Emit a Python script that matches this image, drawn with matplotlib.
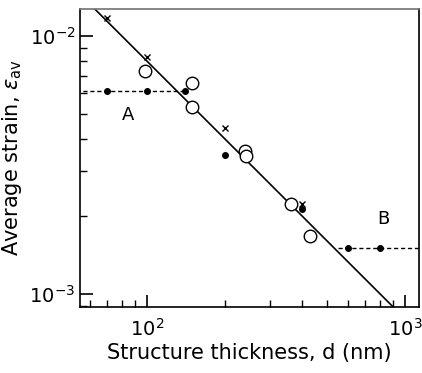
import numpy as np
import matplotlib
matplotlib.use("Agg")
import matplotlib.pyplot as plt
from matplotlib.ticker import LogLocator, NullFormatter

# filled dots (plateaus A and B plus scattered)
dot_d = [70, 100, 140, 200, 400, 600, 800]
dot_eps = [6.1e-3, 6.1e-3, 6.1e-3, 3.46e-3, 2.14e-3, 1.51e-3, 1.51e-3]

# open circles
circ_d = [98, 150, 150, 240, 243, 360, 430]
circ_eps = [7.3e-3, 6.6e-3, 5.3e-3, 3.58e-3, 3.42e-3, 2.23e-3, 1.68e-3]

# crosses
cross_d = [70, 100, 200, 400]
cross_eps = [1.17e-2, 8.3e-3, 4.4e-3, 2.23e-3]

# eps = C / d fit
fit_const = 0.8
fit_d = [50, 1200]

# dashed plateaus
plateau_a_d = [50, 140]
plateau_a_eps = 6.1e-3
plateau_b_d = [550, 1200]
plateau_b_eps = 1.51e-3

fig = plt.figure(figsize=(4.22, 3.73), dpi=100)
ax = fig.add_axes([0.19, 0.177, 0.803, 0.799])

fd = np.array(fit_d, dtype=float)
ax.plot(fd, fit_const / fd, color="black", lw=1.2)
ax.plot(plateau_a_d, [plateau_a_eps] * 2, color="black", lw=1, ls=(0, (3, 2)))
ax.plot(plateau_b_d, [plateau_b_eps] * 2, color="black", lw=1, ls=(0, (3, 2)))

ax.plot(dot_d, dot_eps, "o", color="black", ms=4, ls="none")
ax.plot(circ_d, circ_eps, "o", mfc="white", mec="black", mew=1, ms=9, ls="none")
ax.plot(cross_d, cross_eps, "x", color="black", ms=4, mew=1, ls="none")

ax.text(70 * 1.21, 4.95e-3, "A", fontsize=13, ha="center", va="center")
ax.text(820, 1.95e-3, "B", fontsize=13, ha="center", va="center")

ax.set_xscale("log")
ax.set_yscale("log")
ax.set_xlim(55.2, 1132)
ax.set_ylim(8.9e-4, 1.273e-2)

ax.xaxis.set_minor_locator(LogLocator(base=10, subs=np.arange(2, 10)))
ax.yaxis.set_minor_locator(LogLocator(base=10, subs=np.arange(2, 10)))
ax.xaxis.set_minor_formatter(NullFormatter())
ax.yaxis.set_minor_formatter(NullFormatter())
ax.tick_params(which="major", direction="in", length=9, width=1.2, labelsize=14)
ax.tick_params(which="minor", direction="in", length=5, width=1)
ax.tick_params(axis="x", pad=8)

for s in ax.spines.values():
    s.set_linewidth(1.2)
ax.spines["top"].set_color("0.45")

ax.set_xlabel("Structure thickness, d (nm)", fontsize=15, labelpad=2)
ax.set_ylabel(r"Average strain, $\varepsilon_{\rm av}$", fontsize=15, labelpad=4)

fig.savefig("out.png", dpi=100)
